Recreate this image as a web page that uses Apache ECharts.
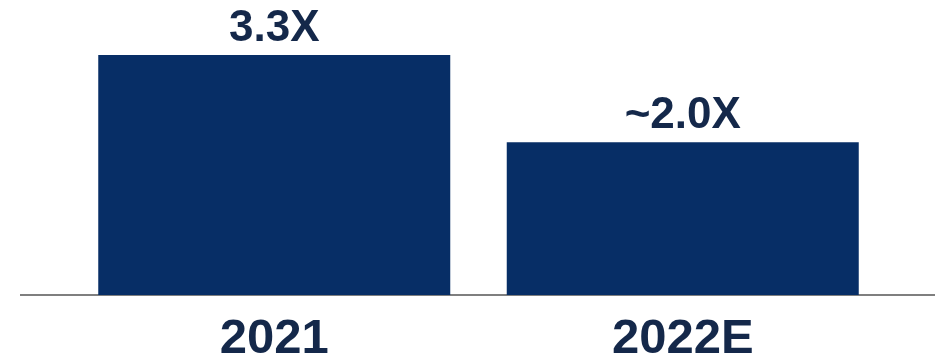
<!DOCTYPE html>
<html>
<head>
<meta charset="utf-8">
<script src="https://cdn.jsdelivr.net/npm/echarts@6/dist/echarts.min.js"></script>
<style>
  html, body { margin: 0; padding: 0; background: #fff; }
  #main { width: 935px; height: 364px; }
</style>
</head>
<body>
<div id="main"></div>
<script>
// 年份和倍数
var categories = ['2021', '2022E'];
var values = [3.3, 2.1];
var valueLabels = ['3.3X', '~2.0X'];

var myChart = echarts.init(document.getElementById('main'));
myChart.setOption({
    animation: false,
    grid: {
        left: 70,
        right: 48,
        top: 4,
        bottom: 69
    },
    xAxis: {
        type: 'category',
        data: categories,
        axisLine: { show: false },
        axisTick: { show: false },
        axisLabel: {
            margin: 20,
            color: '#14284a',
            fontFamily: 'Liberation Sans',
            fontWeight: 'bold',
            fontSize: 49
        }
    },
    yAxis: {
        type: 'value',
        min: 0,
        max: 4,
        show: false
    },
    // 底部的横线，比柱子区域更宽
    graphic: [{
        type: 'line',
        shape: { x1: 20, y1: 295, x2: 935, y2: 295 },
        style: { stroke: '#7f7f7f', lineWidth: 2 }
    }],
    series: [{
        type: 'bar',
        data: values,
        barWidth: 352,
        itemStyle: { color: '#072e66' },
        label: {
            show: true,
            position: 'top',
            distance: 4,
            color: '#14284a',
            fontFamily: 'Liberation Sans',
            fontWeight: 'bold',
            fontSize: 44,
            formatter: function (p) {
                return valueLabels[p.dataIndex];
            }
        }
    }]
});
</script>
</body>
</html>
